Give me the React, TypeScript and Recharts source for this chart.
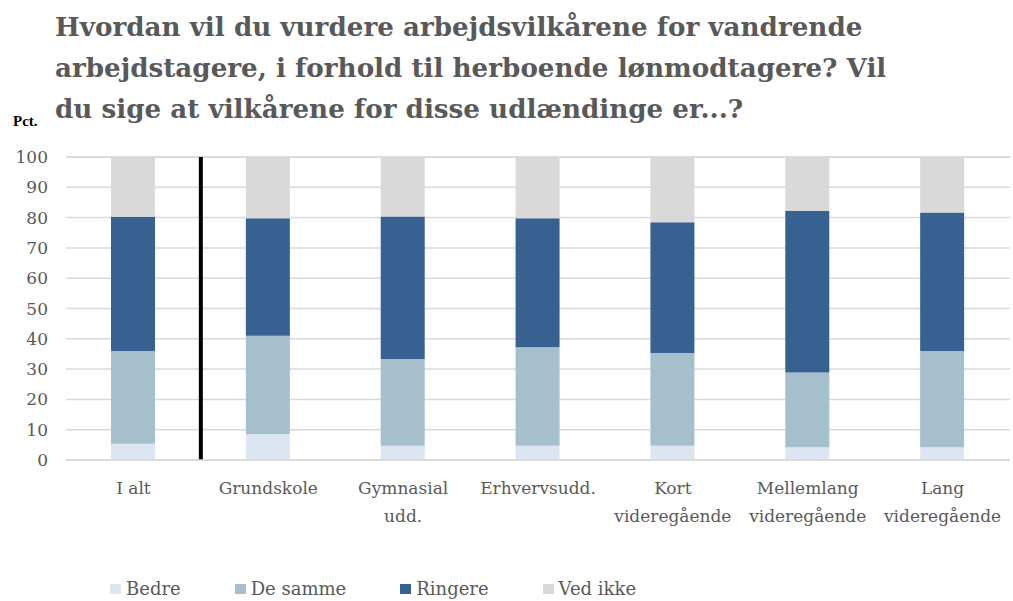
import React from "react";
import {
  BarChart,
  Bar,
  XAxis,
  YAxis,
  CartesianGrid,
  ReferenceLine,
} from "recharts";

const categories = [
  "I alt",
  "Grundskole",
  "Gymnasial\nudd.",
  "Erhvervsudd.",
  "Kort\nvideregående",
  "Mellemlang\nvideregående",
  "Lang\nvideregående",
];

const bedre = [5.4, 8.6, 4.7, 4.7, 4.7, 4.2, 4.2];
const deSamme = [30.6, 32.4, 28.6, 32.5, 30.6, 24.7, 31.8];
const ringere = [44.3, 38.8, 47.1, 42.6, 43.2, 53.4, 45.7];
const vedIkke = [19.7, 20.2, 19.6, 20.2, 21.5, 17.7, 18.3];

const seriesNames = ["Bedre", "De samme", "Ringere", "Ved ikke"];
const seriesKeys = ["bedre", "deSamme", "ringere", "vedIkke"];
const COLORS = ["#DCE6F2", "#A5BFCD", "#366191", "#D9D9D9"];

const yTicks = [0, 10, 20, 30, 40, 50, 60, 70, 80, 90, 100];

const titleLines = [
  "Hvordan vil du vurdere arbejdsvilkårene for vandrende",
  "arbejdstagere, i forhold til herboende lønmodtagere? Vil",
  "du sige at vilkårene for disse udlændinge er...?",
];

const FONT = "'DejaVu Serif', serif";
const TEXT = "#595959";

const data = categories.map((c, i) => ({
  name: c,
  bedre: bedre[i],
  deSamme: deSamme[i],
  ringere: ringere[i],
  vedIkke: vedIkke[i],
}));

const CatTick = (props: any) => {
  const { x, y, payload } = props;
  const lines = String(payload.value).split("\n");
  return (
    <text
      x={x}
      y={y}
      textAnchor="middle"
      fill={TEXT}
      fontSize={17}
      fontFamily={FONT}
    >
      {lines.map((l, i) => (
        <tspan key={i} x={x} dy={i === 0 ? 26 : 28}>
          {l}
        </tspan>
      ))}
    </text>
  );
};

export default function App() {
  return (
    <div
      style={{
        position: "absolute",
        left: 0,
        top: 0,
        width: 1013,
        height: 601,
        background: "#fff",
        fontFamily: FONT,
      }}
    >
      <div
        style={{
          position: "absolute",
          left: 55,
          top: 6,
          color: TEXT,
          fontWeight: "bold",
          fontSize: 26.2,
          lineHeight: "41px",
          whiteSpace: "nowrap",
        }}
      >
        {titleLines.map((t, i) => (
          <div key={i}>{t}</div>
        ))}
      </div>
      <div
        style={{
          position: "absolute",
          left: 13,
          top: 113,
          fontWeight: "bold",
          fontSize: 15,
          fontFamily: "'Liberation Serif', serif",
          color: "#000",
        }}
      >
        Pct.
      </div>
      <BarChart
        width={1013}
        height={601}
        data={data}
        margin={{ top: 157, right: 3, left: 6, bottom: 81 }}
        barSize={44}
      >
        <CartesianGrid vertical={false} stroke="#D9D9D9" strokeWidth={1.5} />
        <XAxis
          dataKey="name"
          interval={0}
          height={60}
          tickLine={false}
          axisLine={{ stroke: "#D9D9D9", strokeWidth: 1.5 }}
          tick={<CatTick />}
        />
        <YAxis
          width={60}
          domain={[0, 100]}
          ticks={yTicks}
          axisLine={false}
          tickLine={false}
          tick={{ fill: TEXT, fontSize: 17, fontFamily: FONT, dx: -10 }}
        />
        {seriesKeys.map((k, i) => (
          <Bar
            key={k}
            dataKey={k}
            name={seriesNames[i]}
            stackId="a"
            fill={COLORS[i]}
            isAnimationActive={false}
          />
        ))}
        <ReferenceLine
          x={categories[0]}
          position="end"
          stroke="#000"
          strokeWidth={4}
        />
      </BarChart>
      <div
        style={{
          position: "absolute",
          left: 110,
          top: 578,
          display: "flex",
          color: TEXT,
          fontSize: 18,
          whiteSpace: "nowrap",
        }}
      >
        {seriesNames.map((n, i) => (
          <div
            key={n}
            style={{ display: "flex", alignItems: "center", marginRight: 54 }}
          >
            <span
              style={{
                display: "inline-block",
                width: 11,
                height: 10,
                background: COLORS[i],
                marginRight: 5,
              }}
            />
            {n}
          </div>
        ))}
      </div>
    </div>
  );
}
